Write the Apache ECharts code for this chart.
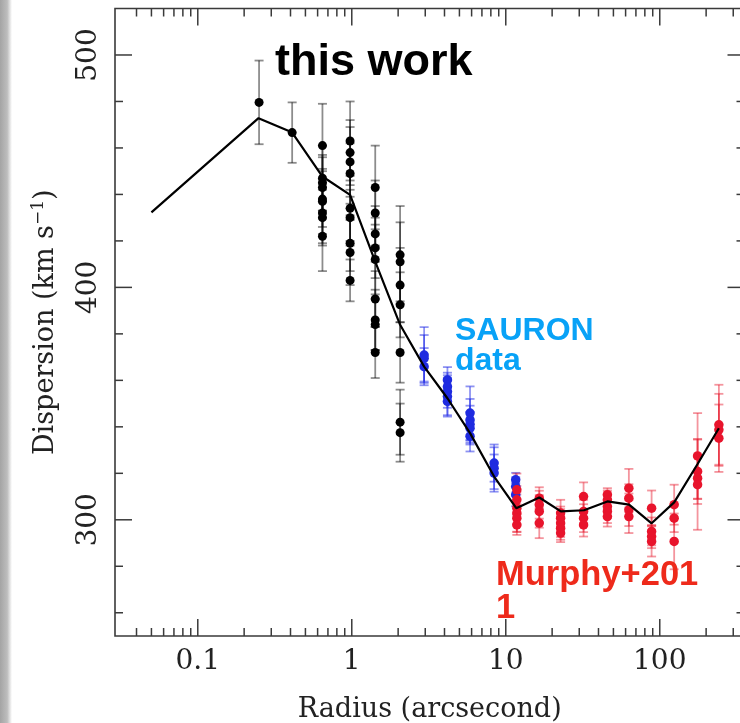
<!DOCTYPE html>
<html>
<head>
<meta charset="utf-8">
<script src="https://cdn.jsdelivr.net/npm/echarts@6/dist/echarts.min.js"></script>
<style>
  html, body { margin: 0; padding: 0; background: #fff; }
  #chart { width: 740px; height: 723px; }
</style>
</head>
<body>
<div id="chart"></div>
<script>
// Velocity dispersion profile: long-slit points, SAURON points, Murphy+2011 points, model curve.

// Axis ranges (radius in arcsec, dispersion in km/s)
const X_MIN = 0.029, X_MAX = 355;
const Y_MIN = 250, Y_MAX = 520;

// Tick positions
const xMajorTicks = [0.1, 1, 10, 100];
const xMinorTicks = [0.04, 0.05, 0.06, 0.07, 0.08, 0.09,
  0.2, 0.3, 0.4, 0.5, 0.6, 0.7, 0.8, 0.9,
  2, 3, 4, 5, 6, 7, 8, 9,
  20, 30, 40, 50, 60, 70, 80, 90,
  200, 300];
const yMajorTicks = [300, 400, 500];
const yMinorTicks = [260, 280, 320, 340, 360, 380, 420, 440, 460, 480];

// This work: radius bins, dispersions and 1-sigma errors
const workRadius = [0.25, 0.41, 0.645, 0.975, 1.42, 2.06];
const workSigma = [
  [479.6],
  [466.6],
  [461, 447, 445, 443, 438, 437, 432, 430, 422],
  [463, 458, 454, 449, 434, 430, 419, 415, 403],
  [443, 432, 423, 417, 412, 395, 386, 384, 372],
  [414, 411, 401, 392.5, 372, 342, 337.5]
];
const workErr = [
  [18],
  [13],
  [18, 14, 12, 13, 12, 14, 13, 12, 15],
  [17, 14, 15, 13, 14, 12, 12, 14, 9],
  [18, 14, 12, 13, 15, 12, 13, 11, 11],
  [21, 17, 16, 14, 13, 14, 12.5]
];

// SAURON data
const sauronRadius = [2.95, 4.18, 5.86, 8.4, 11.6];
const sauronSigma = [
  [370.9, 369.5, 365.9],
  [360.2, 357.3, 355.2, 353.0, 350.9],
  [345.9, 343.0, 341.1, 339.4, 336.0],
  [324.4, 322.2, 320.1],
  [317.2, 314.3, 310.8]
];
const sauronErr = [
  [12, 10, 8],
  [5.5, 6, 7, 8, 6.5],
  [11.5, 9, 8, 7, 6.6],
  [8, 9, 8],
  [3, 4, 5]
];

// Murphy+2011 data
const murphyRadius = [11.8, 16.5, 22.7, 32, 45.7, 63, 88.5, 124, 176, 242];
const murphySigma = [
  [312.9, 308.6, 305.0, 302.9, 300.7, 297.8],
  [309.3, 306.5, 303.6, 298.6],
  [302.9, 300.7, 298.6, 296.4, 294.3],
  [310.0, 303.6, 300.7, 297.8],
  [310.8, 308.6, 305.7, 303.6, 301.4],
  [313.6, 309.3, 304.3, 301.4],
  [305.0, 295.0, 292.8, 290.7],
  [306.5, 300.7, 290.7],
  [327.5, 320.8, 317.9, 315.1],
  [340.9, 338.7, 335.1]
];
const murphyErr = [
  [7, 6, 7, 8, 6, 4.3],
  [4.7, 6, 7, 6.5],
  [5.7, 5, 6, 5, 3.9],
  [6.1, 5, 6, 5],
  [2.8, 4, 5, 5, 4.3],
  [8.3, 6, 7, 7.1],
  [7.6, 6, 5, 6.5],
  [8.6, 6, 12],
  [18.4, 14, 9, 19.4],
  [17.2, 15.5, 14.5]
];

// Model curve
const modelRadius = [0.05, 0.248, 0.408, 0.645, 0.975, 1.42, 2.06, 2.95, 4.18, 5.86, 8.4,
  11.7, 16.5, 22.8, 32.2, 45.7, 63.2, 88.5, 124, 176, 242];
const modelSigma = [432.3, 472.8, 466.8, 447.7, 439.8, 411.1, 383.9, 365.9, 352.3, 337.3, 318.6,
  305.0, 309.6, 303.6, 304.1, 307.9, 306.5, 298.5, 307.5, 324.0, 339.4];

const SERIF = '"DejaVu Serif", "Liberation Serif", serif';
const SANS = '"Liberation Sans", Arial, Helvetica, sans-serif';

function flattenPoints(radius, sigma) {
  const out = [];
  radius.forEach((r, i) => sigma[i].forEach(s => out.push([r, s])));
  return out;
}
function flattenBars(radius, sigma, err) {
  const out = [];
  radius.forEach((r, i) => sigma[i].forEach((s, j) => out.push([r, s - err[i][j], s + err[i][j]])));
  return out;
}

function errorBarRenderer(color) {
  return function (params, api) {
    const x = api.value(0);
    const bot = api.coord([x, api.value(1)]);
    const top = api.coord([x, api.value(2)]);
    const hw = 4.5;
    const st = { stroke: color, lineWidth: 1.8 };
    return {
      type: 'group',
      children: [
        { type: 'line', shape: { x1: top[0], y1: top[1], x2: bot[0], y2: bot[1] }, style: st },
        { type: 'line', shape: { x1: top[0] - hw, y1: top[1], x2: top[0] + hw, y2: top[1] }, style: st },
        { type: 'line', shape: { x1: bot[0] - hw, y1: bot[1], x2: bot[0] + hw, y2: bot[1] }, style: st }
      ]
    };
  };
}

const TICK_COLOR = '#3a3a3a';
function xTickRenderer(params, api) {
  const v = api.value(0);
  const len = api.value(2) ? 17 : 8;
  const b = api.coord([v, Y_MIN]);
  const t = api.coord([v, Y_MAX]);
  const st = { stroke: TICK_COLOR, lineWidth: 1.5 };
  return {
    type: 'group',
    children: [
      { type: 'line', shape: { x1: b[0], y1: b[1], x2: b[0], y2: b[1] - len }, style: st },
      { type: 'line', shape: { x1: t[0], y1: t[1], x2: t[0], y2: t[1] + len }, style: st }
    ]
  };
}
function yTickRenderer(params, api) {
  const v = api.value(1);
  const len = api.value(2) ? 17 : 8;
  const l = api.coord([X_MIN, v]);
  const r = api.coord([X_MAX, v]);
  const st = { stroke: TICK_COLOR, lineWidth: 1.5 };
  return {
    type: 'group',
    children: [
      { type: 'line', shape: { x1: l[0], y1: l[1], x2: l[0] + len, y2: l[1] }, style: st },
      { type: 'line', shape: { x1: r[0], y1: r[1], x2: r[0] - len, y2: r[1] }, style: st }
    ]
  };
}

const xTickData = xMajorTicks.map(v => [v, Y_MIN, 1]).concat(xMinorTicks.map(v => [v, Y_MIN, 0]));
const yTickData = yMajorTicks.map(v => [X_MIN, v, 1]).concat(yMinorTicks.map(v => [X_MIN, v, 0]));

const chart = echarts.init(document.getElementById('chart'), null, { renderer: 'canvas' });

chart.setOption({
  backgroundColor: '#ffffff',
  animation: false,
  grid: {
    left: 115, top: 8.5, width: 629.5, height: 627.5,
    outerBoundsMode: 'none',
    containLabel: false,
    show: true, borderColor: TICK_COLOR, borderWidth: 1.6, backgroundColor: 'transparent'
  },
  xAxis: {
    type: 'log',
    logBase: 10,
    min: X_MIN,
    max: X_MAX,
    axisLine: { show: false },
    axisTick: { show: false },
    splitLine: { show: false },
    minorTick: { show: false },
    axisLabel: {
      show: true,
      showMinLabel: false,
      showMaxLabel: false,
      margin: 12,
      color: '#222',
      fontFamily: SERIF,
      fontSize: 28,
      formatter: function (v) {
        const lg = Math.log10(v);
        const r = Math.round(lg);
        if (Math.abs(lg - r) > 1e-6) return '';
        return String(Number(Math.pow(10, r).toPrecision(1)));
      }
    },
    name: 'Radius (arcsecond)',
    nameLocation: 'middle',
    nameGap: 60,
    nameTextStyle: { fontFamily: SERIF, fontSize: 27, color: '#222' }
  },
  yAxis: {
    type: 'value',
    min: Y_MIN,
    max: Y_MAX,
    interval: 50,
    axisLine: { show: false },
    axisTick: { show: false },
    splitLine: { show: false },
    axisLabel: {
      show: true,
      showMaxLabel: false,
      rotate: 90,
      margin: 12,
      color: '#222',
      fontFamily: SERIF,
      fontSize: 28,
      formatter: function (v) { return v % 100 === 0 ? String(v) : ''; }
    },
    name: 'Dispersion (km s{sup|\u22121})',
    nameLocation: 'middle',
    nameRotate: 90,
    nameGap: 53,
    nameTextStyle: {
      fontFamily: SERIF, fontSize: 27, color: '#222', lineHeight: 32,
      rich: {
        sup: { fontFamily: SERIF, fontSize: 17, color: '#222', verticalAlign: 'top', lineHeight: 32 }
      }
    }
  },
  series: [
    {
      type: 'custom', name: 'xTicks', renderItem: xTickRenderer, data: xTickData,
      silent: true, z: 5, clip: false
    },
    {
      type: 'custom', name: 'yTicks', renderItem: yTickRenderer, data: yTickData,
      silent: true, z: 5, clip: false
    },
    {
      type: 'custom', name: 'workErr', renderItem: errorBarRenderer('rgba(0,0,0,0.45)'),
      data: flattenBars(workRadius, workSigma, workErr), silent: true, z: 2
    },
    {
      type: 'custom', name: 'sauronErr', renderItem: errorBarRenderer('rgba(30,40,230,0.5)'),
      data: flattenBars(sauronRadius, sauronSigma, sauronErr), silent: true, z: 2
    },
    {
      type: 'custom', name: 'murphyErr', renderItem: errorBarRenderer('rgba(230,20,40,0.45)'),
      data: flattenBars(murphyRadius, murphySigma, murphyErr), silent: true, z: 2
    },
    {
      type: 'scatter', name: 'this work', data: flattenPoints(workRadius, workSigma),
      symbol: 'circle', symbolSize: 9, itemStyle: { color: '#000', opacity: 1 }, z: 3
    },
    {
      type: 'scatter', name: 'SAURON', data: flattenPoints(sauronRadius, sauronSigma),
      symbol: 'circle', symbolSize: 9.5, itemStyle: { color: '#1f2be0', opacity: 1 }, z: 3
    },
    {
      type: 'scatter', name: 'Murphy+2011', data: flattenPoints(murphyRadius, murphySigma),
      symbol: 'circle', symbolSize: 9.5, itemStyle: { color: '#e8142c', opacity: 1 }, z: 3
    },
    {
      type: 'line', name: 'model', data: modelRadius.map((r, i) => [r, modelSigma[i]]),
      showSymbol: false, symbol: 'none', lineStyle: { color: '#000', width: 2.2 }, z: 4
    }
  ],
  graphic: [
    {
      type: 'rect', left: 0, top: 0, z: 0,
      shape: { width: 12, height: 723 },
      style: {
        fill: new echarts.graphic.LinearGradient(0, 0, 1, 0, [
          { offset: 0, color: '#a4a4a4' },
          { offset: 0.6, color: '#bdbdbd' },
          { offset: 1, color: '#ffffff' }
        ])
      }
    },
    {
      type: 'text', x: 275, y: 63, z: 10,
      style: { text: 'this work', fill: '#000', font: 'bold 45px ' + SANS, align: 'left', verticalAlign: 'middle' }
    },
    {
      type: 'text', x: 455, y: 316, z: 10,
      style: { text: 'SAURON\ndata', fill: '#08a2f7', font: 'bold 32px ' + SANS, lineHeight: 30, align: 'left', verticalAlign: 'top' }
    },
    {
      type: 'text', x: 496, y: 559, z: 10,
      style: { text: 'Murphy+201\n1', fill: '#ee2a1b', font: 'bold 34.5px ' + SANS, lineHeight: 33, align: 'left', verticalAlign: 'top' }
    }
  ]
});
</script>
</body>
</html>
